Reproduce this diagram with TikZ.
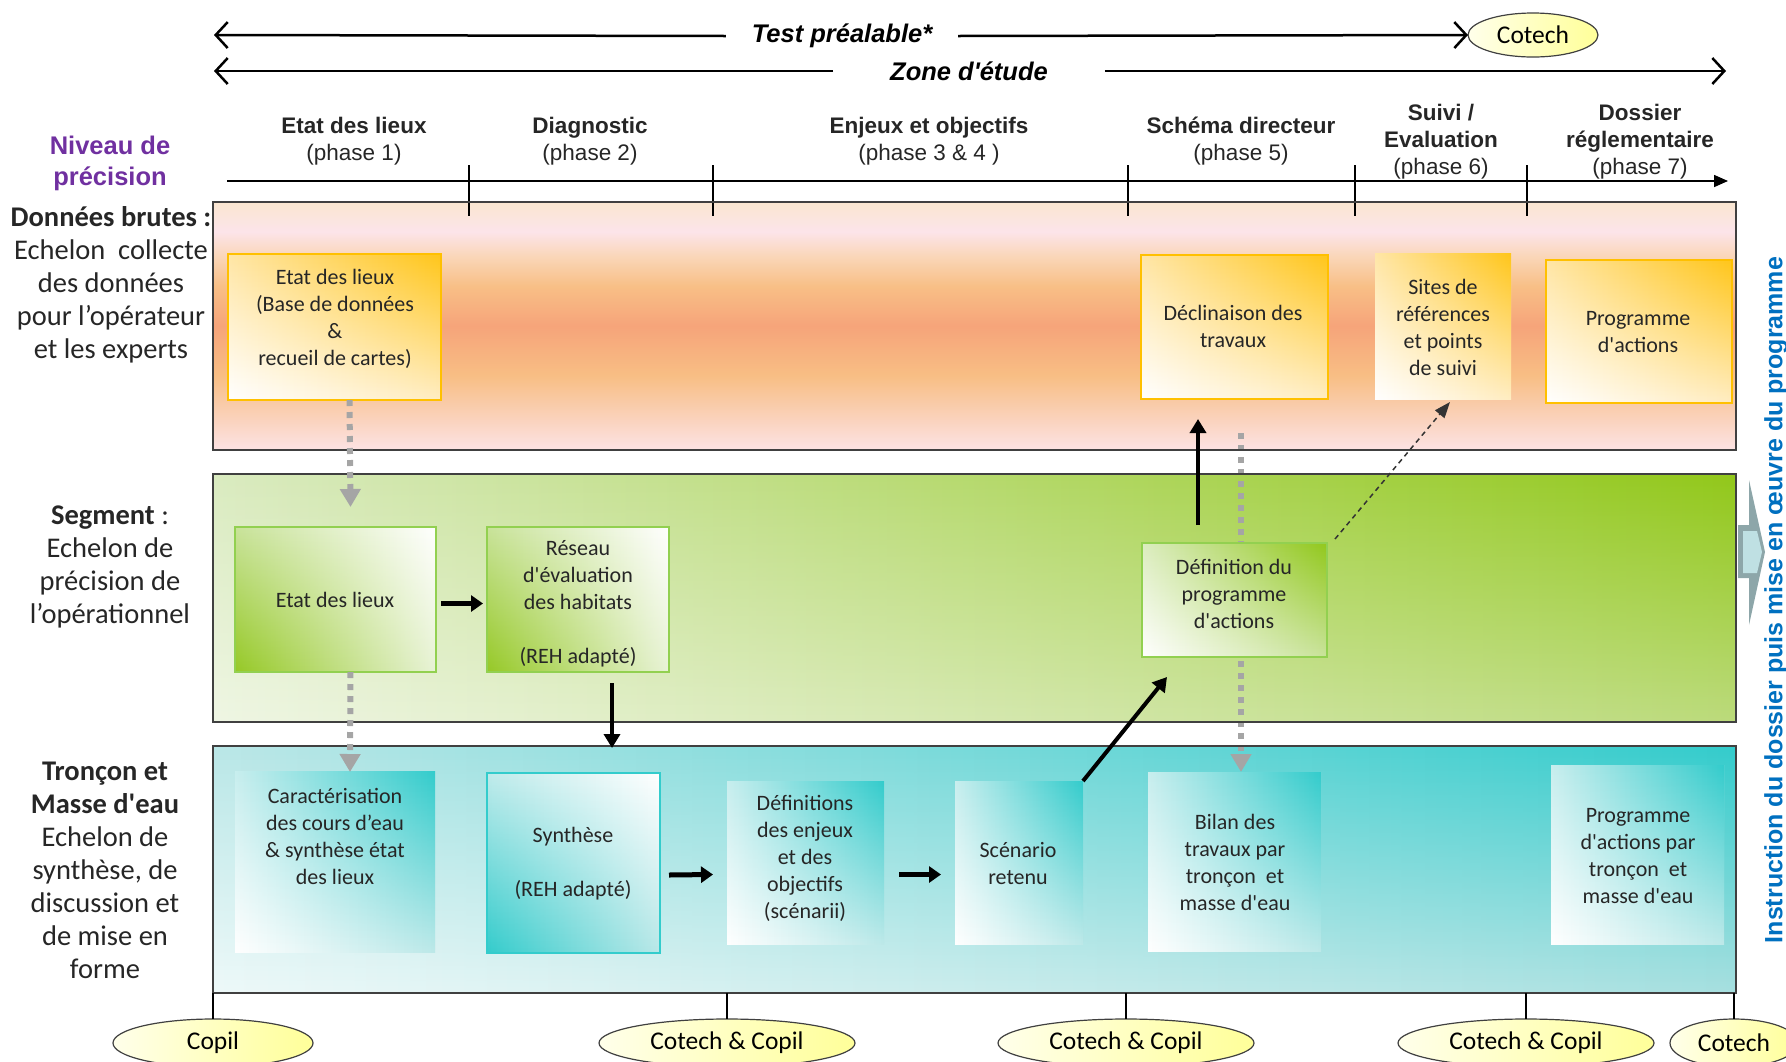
\documentclass[tikz,border=0pt]{standalone}
\usepackage{fontspec}
\setmainfont{Carlito}
\newfontfamily\arialfont{Liberation Sans}
\usetikzlibrary{arrows.meta,calc,fadings,shapes.geometric}
\newcommand\sq{\textquotesingle}

\definecolor{inkgray}{HTML}{404040}
\definecolor{dotgray}{HTML}{A5A5A5}
\definecolor{gold}{HTML}{FFC000}
\definecolor{leaf}{HTML}{92D050}
\definecolor{lagoon}{HTML}{33CCCC}
\definecolor{plum}{HTML}{7030A0}
\definecolor{azure}{HTML}{0070C0}
% raw-data band colours, bottom to top
\definecolor{rbA}{HTML}{FCE3E4}
\definecolor{rbB}{HTML}{FAD3BE}
\definecolor{rbC}{HTML}{F8BE84}
\definecolor{rbD}{HTML}{F6A47A}
\definecolor{rbE}{HTML}{F8BF86}
\definecolor{rbF}{HTML}{FAD6B8}
\definecolor{rbG}{HTML}{FCE4EA}
\definecolor{rbH}{HTML}{FAE6D0}
% segment band corners
\definecolor{sgBL}{HTML}{EFF6E4}
\definecolor{sgBR}{HTML}{BCDB7C}
\definecolor{sgTL}{HTML}{DAEBC0}
\definecolor{sgTR}{HTML}{92C81A}
% reach band corners
\definecolor{trBL}{HTML}{EEF9F9}
\definecolor{trBR}{HTML}{A8E0E0}
\definecolor{trTL}{HTML}{BAE7E7}
\definecolor{trTR}{HTML}{33CCCC}
% box tints
\definecolor{goldBR}{HTML}{FFEDC2}
\definecolor{goldTL}{HTML}{FFE6A6}
\definecolor{goldTR}{HTML}{FFC61A}
\definecolor{leafA}{HTML}{96C926}
\definecolor{leafB}{HTML}{E8F3D6}
\definecolor{leafC}{HTML}{C9E39A}
\definecolor{leafD}{HTML}{DCEDC0}
\definecolor{leafE}{HTML}{92C81C}
\definecolor{tealA}{HTML}{BDE9E9}
\definecolor{tealB}{HTML}{C8EEEE}
\definecolor{tealC}{HTML}{B9E8E8}
\definecolor{tealD}{HTML}{C0EBEB}
\definecolor{handEdge}{HTML}{8DA6A9}
\definecolor{handFill}{HTML}{BFE0E3}
\definecolor{paleYel}{HTML}{FFFFEA}
\definecolor{deepYel}{HTML}{FFFF99}

\pgfdeclareverticalshading{rawband}{100bp}{color(0bp)=(rbA); color(25bp)=(rbA); color(31bp)=(rbB); color(40bp)=(rbC); color(50bp)=(rbD); color(58bp)=(rbE); color(64bp)=(rbF); color(69bp)=(rbG); color(75bp)=(rbH); color(100bp)=(rbH)}

\pgfdeclarelayer{bands}
\pgfdeclarelayer{guides}
\pgfdeclarelayer{boxfill}
\pgfsetlayers{bands,guides,boxfill,main}

% four-corner fill behind a node: [layer]{node}{bottom-left}{bottom-right}{top-left}{top-right}
\newcommand\cornerfill[6][boxfill]{%
  \begin{pgfonlayer}{#1}
    \shade[left color=#3,right color=#4] (#2.south west) rectangle (#2.north east);
    \shade[left color=#5,right color=#6,path fading=south] (#2.south west) rectangle (#2.north east);
  \end{pgfonlayer}}

\begin{document}
\begin{tikzpicture}[x=1pt,y=-1pt,
  every node/.style={inner sep=0pt, outer sep=0pt},
  bandbox/.style={rectangle, draw=inkgray, line width=1.5pt, minimum width=1523pt},
  rawbox/.style={rectangle, draw=gold, line width=1.8pt},
  segbox/.style={rectangle, draw=leaf, line width=1.8pt},
  synbox/.style={rectangle, draw=lagoon, line width=1.8pt},
  trbox/.style={rectangle},
  boxtxt/.style={align=center, font=\fontsize{22}{27}\selectfont, text=black!85},
  sidetxt/.style={align=center, font=\fontsize{28.5}{33}\selectfont, text=black!85},
  phasetxt/.style={align=center, font=\arialfont\fontsize{22.5}{27}\selectfont, text=black!85},
  spanlbl/.style={font=\arialfont\bfseries\itshape\fontsize{25.5}{25.5}\selectfont},
  meeting/.style={ellipse, draw=inkgray, line width=1.2pt, left color=paleYel, right color=deepYel, font=\fontsize{25.5}{25.5}\selectfont},
  grayflow/.style={draw=dotgray, line width=6pt, dash pattern=on 6pt off 6pt, -{Triangle[length=18pt,width=20pt]}},
  blackflow/.style={line width=4pt, -{Triangle[length=14pt,width=16pt]}},
  fatflow/.style={line width=5pt, -{Triangle[length=12pt,width=16pt]}},
  thinlink/.style={draw=black!80, line width=1.5pt, dash pattern=on 5pt off 4pt, -{Triangle[length=16pt,width=12pt]}},
  span/.style={line width=2.5pt, -{Straight Barb[length=12pt,width=26pt]}},
  tick/.style={line width=1.2pt}
]
\useasboundingbox (0,0) rectangle (1786,1061);

% ---------- span arrows at the top ----------
\node[meeting, minimum width=130pt, minimum height=44pt] (cotechTop) at (1533,35) {Cotech};
\node[spanlbl, inner xsep=26pt] (testLbl) at (842,36) {Test préalable*};
\coordinate (testStart) at (214,35);
\draw[span] (testLbl.west) -- (testStart);
\draw[span] (testLbl.east) -- (cotechTop.west);

\node[spanlbl, inner xsep=57pt] (zoneLbl) at (969,71) {Zone d'étude};
\coordinate (zoneStart) at (214,71);
\coordinate (zoneEnd) at (1726,71);
\draw[span] (zoneLbl.west) -- (zoneStart);
\draw[span] (zoneLbl.east) -- (zoneEnd);

% ---------- phases ----------
\node[phasetxt] (ph1) at (354,141.5) {\textbf{Etat des lieux}\\(phase 1)};
\node[phasetxt] (ph2) at (590,141.5) {\textbf{Diagnostic}\\(phase 2)};
\node[phasetxt] (ph3) at (929,141.5) {\textbf{Enjeux et objectifs}\\(phase 3 \& 4 )};
\node[phasetxt] (ph4) at (1241,141.5) {\textbf{Schéma directeur}\\(phase 5)};
\node[phasetxt] (ph5) at (1441,142) {\textbf{Suivi /}\\\textbf{Evaluation}\\(phase 6)};
\node[phasetxt] (ph6) at (1640,142) {\textbf{Dossier}\\\textbf{réglementaire}\\(phase 7)};

\coordinate (axisStart) at (227,181);
\coordinate (axisEnd) at (1728,181);
\draw[line width=1.6pt, -{Triangle[length=14pt,width=12pt]}] (axisStart) -- (axisEnd);
\foreach \x in {469,713,1128,1355,1527}
  \draw[tick] (\x,165) -- (\x,216);

\node[align=center, font=\arialfont\bfseries\fontsize{25.5}{31}\selectfont, text=plum] (lvlHead) at (110,163) {Niveau de\\précision};

% ---------- bands ----------
\node[bandbox, minimum height=248pt] (band1) at (974.5,326) {};
\node[bandbox, minimum height=248pt] (band2) at (974.5,598) {};
\node[bandbox, minimum height=247pt] (band3) at (974.5,869.5) {};
\begin{pgfonlayer}{bands}
  \shade[shading=rawband] (band1.south west) rectangle (band1.north east);
\end{pgfonlayer}
\cornerfill[bands]{band2}{sgBL}{sgBR}{sgTL}{sgTR}
\cornerfill[bands]{band3}{trBL}{trBR}{trTL}{trTR}

% ---------- level captions ----------
\node[sidetxt] (lvlRaw) at (111,285) {\textbf{Données brutes :}\\Echelon\ \ collecte\\des données\\pour l’opérateur\\et les experts};
\node[sidetxt] (lvlSeg) at (110,567) {\textbf{Segment} :\\Echelon de\\précision de\\l’opérationnel};
\node[sidetxt] (lvlTr) at (105,870) {\textbf{Tronçon et}\\\textbf{Masse d\sq eau}\\Echelon de\\synthèse, de\\discussion et\\de mise en\\forme};

% ---------- raw-data boxes ----------
\node[rawbox, minimum width=213pt, minimum height=146pt] (rawA) at (334.5,327) {};
\node[rawbox, minimum width=187pt, minimum height=144pt] (rawDecl) at (1234.5,327) {};
\node[rawbox, draw=none, minimum width=136pt, minimum height=146pt] (rawSites) at (1443,326) {};
\node[rawbox, minimum width=186pt, minimum height=143pt] (rawProg) at (1639,331.5) {};
\foreach \b in {rawA,rawDecl,rawSites,rawProg}
  \cornerfill{\b}{white}{goldBR}{goldTL}{goldTR};
\node[boxtxt] (rawAT) at (335,319) {Etat des lieux\\(Base de données\\\&\\recueil de cartes)};
\node[boxtxt] (rawDeclT) at (1233,326.5) {Déclinaison des\\travaux};
\node[boxtxt] (rawSitesT) at (1443,327) {Sites de\\références\\et points\\de suivi};
\node[boxtxt] (rawProgT) at (1638,332) {Programme\\d\sq actions};

% ---------- segment boxes ----------
\node[segbox, minimum width=201pt, minimum height=145pt] (segEtat) at (335.5,599.5) {};
\node[segbox, minimum width=182pt, minimum height=145pt] (segReh) at (578,599.5) {};
\node[segbox, minimum width=185pt, minimum height=114pt] (segDef) at (1234.5,600) {};
\cornerfill{segEtat}{leafA}{leafB}{leafC}{white}
\cornerfill{segReh}{leafA}{leafB}{leafC}{white}
\cornerfill{segDef}{white}{leafC}{leafD}{leafE}
\node[boxtxt] (segEtatT) at (335,600) {Etat des lieux};
\node[boxtxt] (segRehT) at (578,604) {Réseau\\d\sq évaluation\\des habitats\\[27pt](REH adapté)};
\node[boxtxt] (segDefT) at (1234,594) {Définition du\\programme\\d\sq actions};

% ---------- reach / water-body boxes ----------
\node[trbox, minimum width=200pt, minimum height=180pt] (trCar) at (335,862) {};
\node[synbox, minimum width=173pt, minimum height=180pt] (trSyn) at (573.5,863) {};
\node[trbox, minimum width=157pt, minimum height=163pt] (trEnj) at (805.5,862.5) {};
\node[trbox, minimum width=128pt, minimum height=163pt] (trScen) at (1019,862.5) {};
\node[trbox, minimum width=173pt, minimum height=179pt] (trBilan) at (1234.5,861.5) {};
\node[trbox, minimum width=173pt, minimum height=179pt] (trProg) at (1637.5,854.5) {};
\foreach \b in {trCar,trEnj,trScen,trBilan,trProg}
  \cornerfill{\b}{white}{tealA}{tealB}{trTR};
\cornerfill{trSyn}{trTR}{tealC}{tealD}{white}
\node[boxtxt] (trCarT) at (335,836) {Caractérisation\\des cours d’eau\\\& synthèse état\\des lieux};
\node[boxtxt] (trSynT) at (573,863.5) {Synthèse\\[27pt](REH adapté)};
\node[boxtxt] (trEnjT) at (805,858.5) {Définitions\\des enjeux\\et des\\objectifs\\(scénarii)};
\node[boxtxt] (trScenT) at (1018,863.5) {Scénario\\retenu};
\node[boxtxt] (trBilanT) at (1235,862) {Bilan des\\travaux par\\tronçon\ \ et\\masse d\sq eau};
\node[boxtxt] (trProgT) at (1638,856.5) {Programme\\d\sq actions par\\tronçon\ \ et\\masse d\sq eau};

% ---------- flows ----------
\draw[grayflow] ($(rawA.south)+(15,0)$) -- ($(segEtat.north)+(15,-20)$);
\draw[grayflow] ($(segEtat.south)+(15,0)$) -- ($(trCar.north)+(15,0)$);
\begin{pgfonlayer}{guides}
  \draw[grayflow] ($(rawDecl.south)+(6.5,34)$) -- ($(trBilan.north)+(6.5,0)$);
\end{pgfonlayer}
\draw[fatflow] ($(segEtat.east)+(5,4)$) -- ($(segReh.west)+(-4,4)$);
\draw[blackflow] ($(segReh.south)+(34,11)$) -- ($(trSyn.north)+(38.5,-25)$);
\draw[fatflow] ($(trSyn.east)+(9,12)$) -- ($(trEnj.west)+(-14,12)$);
\draw[fatflow] ($(trEnj.east)+(15,12)$) -- ($(trScen.west)+(-14,12)$);
\draw[blackflow] (trScen.north east) -- ($(segDef.south west)+(25,20)$);
\draw[blackflow] ($(segDef.north west)+(56,-18)$) -- ($(rawDecl.south west)+(57,20)$);
\draw[thinlink] ($(segDef.north east)+(8,-4)$) -- ($(rawSites.south)+(7,3)$);

% ---------- meetings ----------
\node[meeting, minimum width=200pt, minimum height=48pt] (mCopil) at (213,1043) {Copil};
\node[meeting, minimum width=256pt, minimum height=48pt] (mOne) at (727,1043) {Cotech \& Copil};
\node[meeting, minimum width=256pt, minimum height=48pt] (mTwo) at (1126,1043) {Cotech \& Copil};
\node[meeting, minimum width=256pt, minimum height=48pt] (mThree) at (1526,1043) {Cotech \& Copil};
\node[meeting, minimum width=128pt, minimum height=48pt] (mCotech) at (1734,1043) {Cotech};
\foreach \m in {mCopil,mOne,mTwo,mThree,mCotech}
  \draw[tick, line width=1.6pt] (band3.south -| \m) -- (\m.north);

% ---------- hand-over to instruction ----------
\fill[handEdge]
  (1738,525) -- (1749,525) -- (1749,480) -- (1765,552) -- (1749,625) -- (1749,578) -- (1738,578) -- cycle;
\fill[handFill]
  (1743,531) -- (1757,531) -- (1762,552) -- (1757,573) -- (1743,573) -- cycle;
\node[rotate=90, font=\arialfont\bfseries\fontsize{25}{25}\selectfont, text=azure] (instr) at (1776,600) {Instruction du dossier puis mise en œuvre du programme};
\end{tikzpicture}
\end{document}
